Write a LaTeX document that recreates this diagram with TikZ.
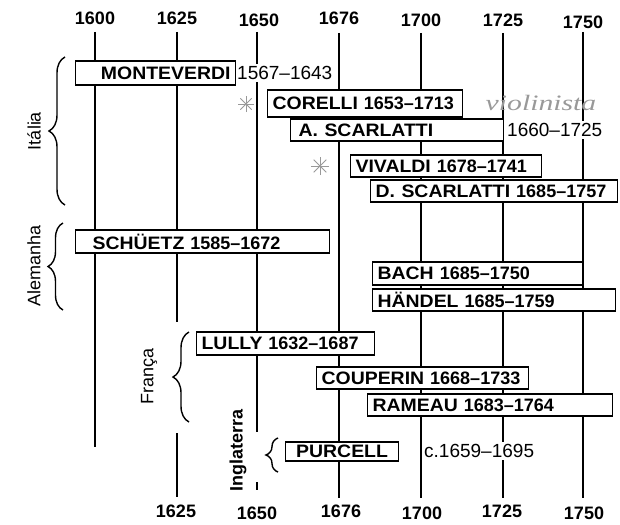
\documentclass[tikz,border=0pt]{standalone}
\usepackage{fontspec}
\usepackage{graphicx}
\setmainfont{Liberation Sans}
\newfontfamily\handfont{Liberation Serif}
\usetikzlibrary{decorations.pathreplacing}
\newcommand\nm[1]{\scalebox{1.08}[1]{#1}}
\definecolor{pencil}{gray}{0.6}
\begin{document}
\begin{tikzpicture}[x=1pt,y=-1pt,
  vl/.style={line width=1.6pt},
  box/.style={draw, fill=white, line width=1.2pt, inner xsep=5pt, inner ysep=0pt, anchor=west, align=left, font=\bfseries\fontsize{18}{18}\selectfont},
  dt/.style={fill=white, inner xsep=1pt, inner ysep=2pt, anchor=west, font=\fontsize{19}{19}\selectfont},
  yr/.style={font=\bfseries\fontsize{18}{18}\selectfont},
  side/.style={rotate=90, font=\fontsize{18}{18}\selectfont},
  br/.style={decorate, decoration={brace, amplitude=#1}, line width=1.4pt},
  star/.style={draw=pencil, line width=0.8pt}
]
\useasboundingbox (0,0) rectangle (620,524);
% year labels
\node[yr] (t1600) at (95,18) {1600};
\node[yr] (t1625) at (177,18) {1625};
\node[yr] (t1650) at (259,20) {1650};
\node[yr] (t1676) at (339,18) {1676};
\node[yr] (t1700) at (421,20) {1700};
\node[yr] (t1725) at (503,20) {1725};
\node[yr] (t1750) at (583,22) {1750};
\node[yr] (b1625) at (176,511) {1625};
\node[yr] (b1650) at (257,513) {1650};
\node[yr] (b1676) at (341,511) {1676};
\node[yr] (b1700) at (422,513) {1700};
\node[yr] (b1725) at (502,511) {1725};
\node[yr] (b1750) at (584,513) {1750};
% vertical lines
\coordinate (a0) at (95,32);   \coordinate (a1) at (95,447);
\coordinate (b0) at (177,32);  \coordinate (b1) at (177,322);
\coordinate (b2) at (177,433); \coordinate (b3) at (177,497);
\coordinate (c0) at (257,32);  \coordinate (c1) at (257,432);
\coordinate (c2) at (257,482); \coordinate (c3) at (257,490);
\coordinate (d0) at (339,33);  \coordinate (d1) at (339,498);
\coordinate (e0) at (421,33);  \coordinate (e1) at (421,498);
\coordinate (f0) at (503,33);  \coordinate (f1) at (503,498);
\coordinate (g0) at (583,32);  \coordinate (g1) at (583,498);
\draw[vl] (a0) -- (a1);
\draw[vl] (b0) -- (b1);
\draw[vl] (b2) -- (b3);
\draw[vl] (c0) -- (c1);
\draw[vl] (c2) -- (c3);
\draw[vl] (d0) -- (d1);
\draw[vl] (e0) -- (e1);
\draw[vl] (f0) -- (f1);
\draw[vl] (g0) -- (g1);
% side labels and braces
\node[side] (it) at (34,131) {Itália};
\node[side] (al) at (34,266) {Alemanha};
\node[side] (fr) at (149,376) {França};
\node[side, font=\bfseries\fontsize{18}{18}\selectfont] (en) at (238,450) {Inglaterra};
\coordinate (itb) at (65,205); \coordinate (itt) at (65,57);
\coordinate (alb) at (63,310); \coordinate (alt) at (63,223);
\coordinate (frb) at (189,422); \coordinate (frt) at (189,332);
\coordinate (enb) at (278,472); \coordinate (ent) at (278,438);
\draw[br=16pt] (itb) -- (itt);
\draw[br=15pt] (alb) -- (alt);
\draw[br=16pt] (frb) -- (frt);
\draw[br=12pt] (enb) -- (ent);
% composer boxes
\node[box, text width=150pt, minimum height=24pt, align=right] (mon) at (75,73) {\nm{MONTEVERDI}};
\node[dt] (mond) at (236,73) {1567--1643};
\node[box, text width=185pt, minimum height=27pt] (cor) at (267,103.5) {\nm{CORELLI} 1653--1713};
\node[box, inner xsep=8pt, text width=197pt, minimum height=22pt] (asc) at (290,130) {\nm{A. SCARLATTI}};
\node[dt] (ascd) at (506,130) {1660--1725};
\node[box, text width=181pt, minimum height=22pt] (viv) at (350,166) {\nm{VIVALDI} 1678--1741};
\node[box, text width=237pt, minimum height=22pt] (dsc) at (370,191) {\nm{D. SCARLATTI} 1685--1757};
\node[box, inner xsep=17pt, text width=220pt, minimum height=23pt] (sch) at (75,241.5) {\nm{SCHÜETZ} 1585--1672};
\node[box, text width=200pt, minimum height=23pt] (bach) at (372,273.5) {\nm{BACH} 1685--1750};
\node[box, text width=233pt, minimum height=22pt] (han) at (372,300) {\nm{HÄNDEL} 1685--1759};
\node[box, text width=168pt, minimum height=23pt] (lul) at (196,343.5) {\nm{LULLY} 1632--1687};
\node[box, text width=202pt, minimum height=22pt] (cou) at (316,378) {\nm{COUPERIN} 1668--1733};
\node[box, text width=235pt, minimum height=22pt] (ram) at (367,405) {\nm{RAMEAU} 1683--1764};
\node[box, text width=103pt, minimum height=19pt, align=center] (pur) at (285,451.5) {\nm{PURCELL}};
\node[dt] (purd) at (423,451) {c.1659--1695};
% pencil annotations
\node[text=pencil, font=\handfont\itshape\fontsize{22}{22}\selectfont] (vio) at (541,103) {\scalebox{1.35}[1]{violinista}};
\coordinate (s1) at (246,104);
\coordinate (s2) at (320,166);
\foreach \a in {0,45,90,135} {
  \draw[star] (s1) ++(\a:8) -- ++(\a+180:16);
  \draw[star] (s2) ++(\a:9) -- ++(\a+180:18);
}
\end{tikzpicture}
\end{document}
